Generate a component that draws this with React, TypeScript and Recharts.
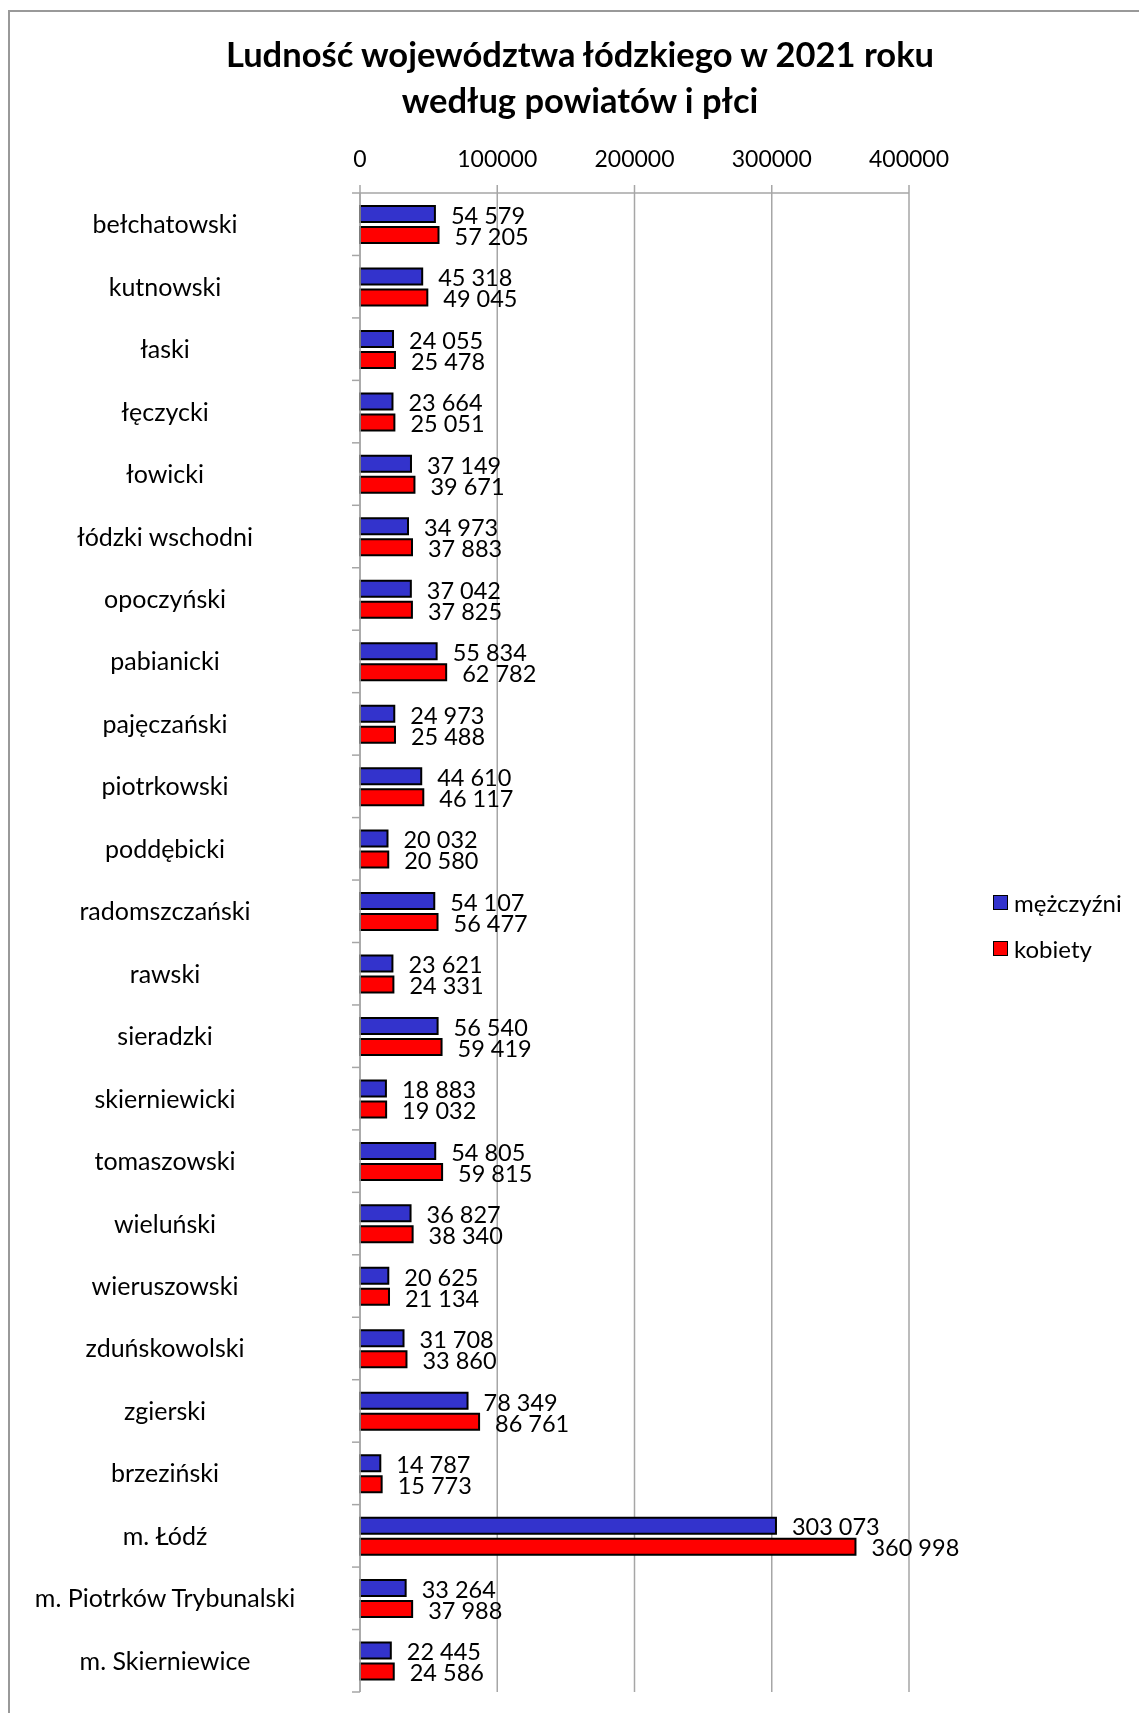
import React from "react";
import { BarChart, Bar, XAxis, YAxis, CartesianGrid, Legend, LabelList } from "recharts";

const categories = [
  "bełchatowski", "kutnowski", "łaski", "łęczycki", "łowicki", "łódzki wschodni",
  "opoczyński", "pabianicki", "pajęczański", "piotrkowski", "poddębicki",
  "radomszczański", "rawski", "sieradzki", "skierniewicki", "tomaszowski",
  "wieluński", "wieruszowski", "zduńskowolski", "zgierski", "brzeziński",
  "m. Łódź", "m. Piotrków Trybunalski", "m. Skierniewice",
];
const men = [
  54579, 45318, 24055, 23664, 37149, 34973, 37042, 55834, 24973, 44610, 20032,
  54107, 23621, 56540, 18883, 54805, 36827, 20625, 31708, 78349, 14787,
  303073, 33264, 22445,
];
const women = [
  57205, 49045, 25478, 25051, 39671, 37883, 37825, 62782, 25488, 46117, 20580,
  56477, 24331, 59419, 19032, 59815, 38340, 21134, 33860, 86761, 15773,
  360998, 37988, 24586,
];
const xTicks = [0, 100000, 200000, 300000, 400000];
const seriesNames = ["mężczyźni", "kobiety"];
const titleLines = ["Ludność województwa łódzkiego w 2021 roku", "według powiatów i płci"];

const data = categories.map((name, i) => ({ name, m: men[i], k: women[i] }));

const W = 1123;
const H = 1697;
const PLOT_LEFT = 352;
const PLOT_TOP = 185;
const PLOT_RIGHT = 901;
const PLOT_BOTTOM = 1684;
const BAND = (PLOT_BOTTOM - PLOT_TOP) / categories.length;
const FONT = "Lato, 'Open Sans', sans-serif";
const GRID = "#a6a6a6";
const BLUE = "#3333CC";
const RED = "#FF0000";

const fmt = (v: any) => String(v).replace(/\B(?=(\d{3})+(?!\d))/g, " ");

function YTick(props: any) {
  const { y, payload } = props;
  const isLast = payload.value === categories[categories.length - 1];
  return (
    <g>
      <text x={157} y={y} dy="0.36em" textAnchor="middle" fontFamily={FONT} fontSize={25} fill="#000">
        {payload.value}
      </text>
      <line x1={PLOT_LEFT - 8} x2={PLOT_LEFT} y1={y - BAND / 2} y2={y - BAND / 2} stroke={GRID} strokeWidth={1.5} />
      {isLast && (
        <line x1={PLOT_LEFT - 8} x2={PLOT_LEFT} y1={y + BAND / 2} y2={y + BAND / 2} stroke={GRID} strokeWidth={1.5} />
      )}
    </g>
  );
}

function LegendContent() {
  const colors = [BLUE, RED];
  return (
    <div style={{ fontFamily: FONT, fontSize: 24, color: "#000" }}>
      {seriesNames.map((n, i) => (
        <div key={n} style={{ height: 46, display: "flex", alignItems: "center", whiteSpace: "nowrap" }}>
          <span
            style={{
              display: "inline-block",
              width: 13,
              height: 13,
              background: colors[i],
              border: "1.5px solid #000",
              marginRight: 6,
            }}
          />
          <span>{n}</span>
        </div>
      ))}
    </div>
  );
}

export default function App() {
  return (
    <div style={{ position: "relative", width: W, height: H, fontFamily: FONT, background: "#fff" }}>
      <div
        style={{
          position: "fixed",
          left: 8,
          top: 10,
          width: 1400,
          height: 1900,
          borderTop: "2px solid #999",
          borderLeft: "2px solid #999",
          pointerEvents: "none",
        }}
      />
      <svg style={{ position: "absolute", left: 0, top: 0 }} width={W} height={130}>
        {titleLines.map((t, i) => (
          <text
            key={i}
            x={572}
            y={59 + i * 46}
            textAnchor="middle"
            fontFamily={FONT}
            fontWeight="bold"
            fontSize={34.5}
            fill="#000"
          >
            {t}
          </text>
        ))}
      </svg>
      <BarChart
        width={W}
        height={H}
        data={data}
        layout="vertical"
        margin={{ top: PLOT_TOP - 40, right: W - PLOT_RIGHT, bottom: H - PLOT_BOTTOM, left: 0 }}
        barGap={5}
      >
        <CartesianGrid horizontal={false} stroke={GRID} strokeWidth={1.5} />
        <XAxis
          type="number"
          orientation="top"
          height={40}
          domain={[0, 400000]}
          ticks={xTicks}
          interval={0}
          tickSize={8}
          tickMargin={18}
          stroke={GRID}
          strokeWidth={1.5}
          tick={{ fill: "#000", fontSize: 23, fontFamily: FONT }}
        />
        <YAxis
          type="category"
          dataKey="name"
          width={PLOT_LEFT}
          interval={0}
          tickLine={false}
          stroke={GRID}
          strokeWidth={1.5}
          tick={<YTick />}
        />
        <Legend
          layout="vertical"
          align="center"
          verticalAlign="middle"
          wrapperStyle={{ left: 985, top: 871, width: 138 }}
          content={<LegendContent />}
        />
        <Bar dataKey="m" name={seriesNames[0]} fill={BLUE} stroke="#000" strokeWidth={2} barSize={16} isAnimationActive={false}>
          <LabelList dataKey="m" position="right" offset={16} formatter={fmt} fill="#000" fontSize={23.5} fontFamily={FONT} dy={1.5} />
        </Bar>
        <Bar dataKey="k" name={seriesNames[1]} fill={RED} stroke="#000" strokeWidth={2} barSize={16} isAnimationActive={false}>
          <LabelList dataKey="k" position="right" offset={16} formatter={fmt} fill="#000" fontSize={23.5} fontFamily={FONT} dy={1.5} />
        </Bar>
      </BarChart>
    </div>
  );
}
